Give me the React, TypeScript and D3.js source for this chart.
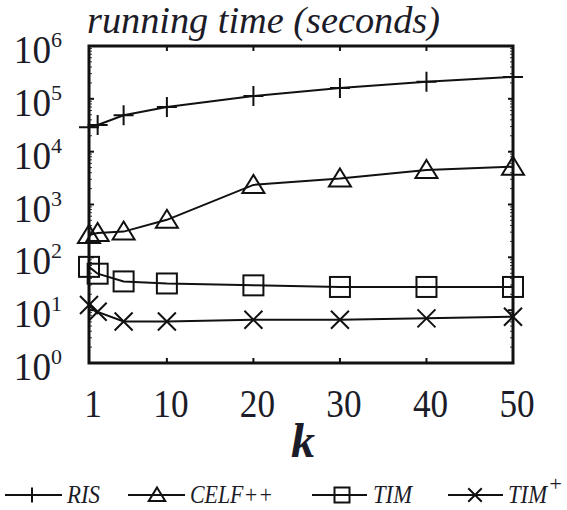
import React from "react";
import * as d3 from "d3";

const ks = [1, 2, 5, 10, 20, 30, 40, 50];
const ris = [29000, 32000, 49000, 70000, 113000, 160000, 210000, 260000];
const celf = [265, 290, 307, 513, 2350, 3100, 4500, 5200];
const tim = [66, 49, 35, 32, 29.5, 27.5, 27.5, 27.5];
const timPlus = [12.5, 9.3, 6.1, 6.1, 6.6, 6.6, 7.0, 7.5];
const xTicks = [1, 10, 20, 30, 40, 50];
const yExps = [0, 1, 2, 3, 4, 5, 6];

const series = [
  { name: "RIS", sup: "", values: ris, marker: "plus" },
  { name: "CELF++", sup: "", values: celf, marker: "triangle" },
  { name: "TIM", sup: "", values: tim, marker: "square" },
  { name: "TIM", sup: "+", values: timPlus, marker: "cross" },
];

const W = 567;
const H = 510;
const left = 89;
const right = 513;
const top = 46;
const bottom = 363;
const font = "Liberation Serif";
const ink = "#1c1c28";

function Marker({ type, x, y, k = 1 }: { type: string; x: number; y: number; k?: number }) {
  const st = { fill: "none", stroke: "#111", strokeWidth: 2 };
  if (type === "plus") {
    const s = 10 * k;
    return <path d={`M${x - s},${y}H${x + s}M${x},${y - s}V${y + s}`} {...st} />;
  }
  if (type === "triangle")
    return <path d={`M${x},${y - 10 * k}L${x + 11 * k},${y + 8 * k}L${x - 11 * k},${y + 8 * k}Z`} {...st} />;
  if (type === "square")
    return <rect x={x - 10 * k} y={y - 10 * k} width={20 * k} height={20 * k} {...st} />;
  const c = 9 * k;
  return <path d={`M${x - c},${y - c}L${x + c},${y + c}M${x - c},${y + c}L${x + c},${y - c}`} {...st} />;
}

export default function App() {
  const x = d3.scaleLinear().domain([1, 50]).range([left, right]);
  const y = d3.scaleLog().domain([1, 1e6]).range([bottom, top]);
  const line = d3
    .line<number>()
    .x((_, i) => x(ks[i]))
    .y((d) => y(d));

  const minor: number[] = [];
  yExps.slice(0, -1).forEach((e) => {
    for (let m = 2; m <= 9; m++) minor.push(m * Math.pow(10, e));
  });

  const ly = 495;
  const legend = [
    { x1: 5, x2: 62, mx: 32, tx: 67, tw: 33 },
    { x1: 128, x2: 185, mx: 157, tx: 190, tw: 83 },
    { x1: 312, x2: 367, mx: 342, tx: 373, tw: 39 },
    { x1: 448, x2: 503, mx: 475, tx: 508, tw: 39 },
  ];

  return (
    <svg width={W} height={H} style={{ position: "absolute", left: 0, top: 0 }}>
      <rect width={W} height={H} fill="#fff" />
      <text x={87} y={33} fontFamily={font} fontStyle="italic" fontSize={38} fill={ink}
        textLength={353} lengthAdjust="spacingAndGlyphs">
        running time (seconds)
      </text>

      {/* ticks */}
      {yExps.slice(1, -1).map((e) => (
        <g key={e}>
          <line x1={left} x2={left + 5} y1={y(Math.pow(10, e))} y2={y(Math.pow(10, e))} stroke="#111" strokeWidth={2} />
          <line x1={right} x2={right - 5} y1={y(Math.pow(10, e))} y2={y(Math.pow(10, e))} stroke="#111" strokeWidth={2} />
        </g>
      ))}
      {minor.map((v) => (
        <g key={v}>
          <line x1={left} x2={left + 3} y1={y(v)} y2={y(v)} stroke="#333" strokeWidth={1} />
          <line x1={right} x2={right - 3} y1={y(v)} y2={y(v)} stroke="#333" strokeWidth={1} />
        </g>
      ))}
      {xTicks.slice(1, -1).map((k) => (
        <g key={k}>
          <line x1={x(k)} x2={x(k)} y1={bottom} y2={bottom - 5} stroke="#111" strokeWidth={2} />
          <line x1={x(k)} x2={x(k)} y1={top} y2={top + 5} stroke="#111" strokeWidth={2} />
        </g>
      ))}
      <rect x={left} y={top} width={right - left} height={bottom - top} fill="none" stroke="#111" strokeWidth={3} />

      {/* y labels */}
      {yExps.map((e) => (
        <text key={e} transform={`translate(51,${y(Math.pow(10, e)) + 17}) scale(0.93,1)`}
          fontFamily={font} fontSize={40} fill={ink} textAnchor="end">
          10
        </text>
      ))}
      {yExps.map((e) => (
        <text key={"s" + e} x={51} y={y(Math.pow(10, e)) + 1} fontFamily={font} fontSize={22} fill={ink}>
          {e}
        </text>
      ))}

      {/* x labels */}
      {xTicks.map((k) => (
        <text key={k} transform={`translate(${x(k) + 4},417) scale(0.88,1)`}
          fontFamily={font} fontSize={40} fill={ink} textAnchor="middle">
          {k}
        </text>
      ))}
      <text x={(left + right) / 2 + 2} y={457} fontFamily={font} fontStyle="italic" fontWeight="bold" fontSize={48} fill={ink} textAnchor="middle">
        k
      </text>

      {/* series */}
      {series.map((s) => (
        <g key={s.name + s.sup}>
          <path d={line(s.values) || ""} fill="none" stroke="#111" strokeWidth={2} />
          {s.values.map((v, i) => (
            <Marker key={i} type={s.marker} x={x(ks[i])} y={y(v)} />
          ))}
        </g>
      ))}

      {/* legend */}
      {series.map((s, i) => {
        const g = legend[i];
        return (
          <g key={"lg" + i}>
            <line x1={g.x1} x2={g.x2} y1={ly} y2={ly} stroke="#111" strokeWidth={2} />
            <Marker type={s.marker} x={g.mx} y={ly} k={0.75} />
            <text x={g.tx} y={ly + 8} fontFamily={font} fontStyle="italic" fontSize={26} fill={ink}>
              <tspan textLength={g.tw} lengthAdjust="spacingAndGlyphs">{s.name}</tspan>
              {s.sup && <tspan fontSize={22} dx={1} dy={-12}>{s.sup}</tspan>}
            </text>
          </g>
        );
      })}
    </svg>
  );
}
